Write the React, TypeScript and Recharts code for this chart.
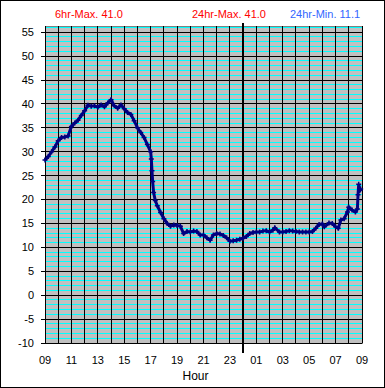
import { LineChart, Line, XAxis, YAxis, ReferenceLine, ReferenceArea, Label } from "recharts"

// hours since 09:00
const hours = [
  0, 0.25, 0.5, 0.75, 1, 1.25, 1.5, 1.75, 2, 2.25, 2.5, 2.75, 3, 3.25, 3.5, 3.75,
  4, 4.25, 4.5, 4.75, 5, 5.25, 5.5, 5.75, 6, 6.25, 6.5, 6.75, 7, 7.25, 7.5, 7.75,
  8, 8.05, 8.1, 8.15, 8.22, 8.35, 8.5, 8.75, 9, 9.25, 9.5, 9.75, 10, 10.25, 10.5, 10.75,
  11, 11.25, 11.5, 11.75, 12, 12.25, 12.5, 12.75, 13, 13.25, 13.5, 13.75, 14, 14.25, 14.5, 14.75,
  15, 15.25, 15.5, 15.75, 16, 16.25, 16.5, 16.75, 17, 17.25, 17.4, 17.75, 18, 18.25, 18.5, 18.75,
  19, 19.25, 19.5, 19.75, 20, 20.25, 20.5, 20.75, 21, 21.15, 21.5, 21.75, 22, 22.2, 22.4, 22.65,
  22.9, 23, 23.25, 23.5, 23.65, 23.7, 23.75, 23.85, 23.9,
]
const temps = [
  28.3, 29.0, 30.0, 31.0, 32.3, 33.0, 33.1, 33.3, 35.3, 36.0, 36.6, 37.6, 38.6, 39.7, 39.5, 39.6,
  39.3, 39.8, 39.4, 40.2, 40.9, 39.6, 39.1, 39.8, 39.0, 38.2, 37.8, 36.5, 35.0, 34.0, 33.0, 31.5,
  30.0, 28.5, 26.0, 23.8, 21.5, 19.8, 18.7, 17.3, 16.0, 15.0, 14.4, 14.7, 14.6, 14.4, 12.9, 13.3,
  13.2, 13.4, 13.3, 12.6, 12.6, 12.0, 11.5, 12.6, 12.9, 12.8, 12.5, 12.0, 11.3, 11.4, 11.5, 11.7,
  11.9, 12.3, 12.9, 13.1, 13.2, 13.2, 13.4, 13.5, 13.2, 13.6, 14.1, 13.2, 13.2, 13.3, 13.5, 13.4,
  13.3, 13.2, 13.2, 13.2, 13.2, 13.3, 14.0, 14.8, 14.9, 14.3, 15.1, 15.0, 14.3, 14.0, 15.7, 16.0,
  17.4, 18.4, 17.8, 17.4, 18.0, 21.0, 23.2, 22.0, 22.2,
]

const yTicks = [-10, -5, 0, 5, 10, 15, 20, 25, 30, 35, 40, 45, 50, 55]
const xTicks = [0, 2, 4, 6, 8, 10, 12, 14, 16, 18, 20, 22, 24]
const hourLines = Array.from({ length: 25 }, (_, i) => i)
const minorLines = Array.from({ length: 67 }, (_, i) => i - 10).filter((v) => v % 5 !== 0)

const data = hours.map((h, i) => ({ h, t: temps[i] }))

const fmtHour = (h: number) => String((9 + h) % 24).padStart(2, "0")

const PlusDot = (p: any) => {
  const { cx, cy } = p
  if (cx == null || cy == null) return null
  return <path key={p.index} d={`M${cx - 2.5},${cy}h5M${cx},${cy - 2.5}v5`} stroke="#000080" strokeWidth={1.5} />
}

const MidnightLine = (p: any) => {
  const top = Math.min(p.y1, p.y2)
  const bottom = Math.max(p.y1, p.y2)
  return <line x1={p.x1} x2={p.x2} y1={top - 3} y2={bottom + 10} stroke="#000" strokeWidth={2} shapeRendering="crispEdges" />
}

const FONT = "Arial, 'Liberation Sans', sans-serif"

export default function App() {
  return (
    <div style={{ position: "relative", width: 385, height: 388, background: "#fff", fontFamily: FONT }}>
      <style>{`body{margin:0}`}</style>
      <LineChart width={385} height={388} data={data} margin={{ top: 26, right: 23, left: 0, bottom: 0 }}>
        <ReferenceArea x1={0} x2={24} y1={-10} y2={56.3} fill="#c0c0c0" fillOpacity={1} stroke="#808080" shapeRendering="crispEdges" />
        {minorLines.map((v) => (
          <ReferenceLine key={"m" + v} y={v} stroke="#00ffff" shapeRendering="crispEdges" />
        ))}
        {yTicks.map((v) => (
          <ReferenceLine key={"y" + v} y={v} stroke="#000" shapeRendering="crispEdges" />
        ))}
        {hourLines.map((v) => (
          <ReferenceLine key={"x" + v} x={v} stroke="#000" shapeRendering="crispEdges" />
        ))}
        <XAxis
          type="number"
          dataKey="h"
          domain={[0, 24]}
          ticks={xTicks}
          tickFormatter={fmtHour}
          tick={{ fontSize: 11, fill: "#000", fontFamily: FONT }}
          tickLine={false}
          tickSize={5}
          tickMargin={8}
          axisLine={{ stroke: "#000", shapeRendering: "crispEdges" }}
          height={45}
        >
          <Label value="Hour" position="insideBottom" offset={8} dx={-8} style={{ fontSize: 12, fill: "#000", fontFamily: FONT }} />
        </XAxis>
        <YAxis
          type="number"
          domain={[-10, 56.3]}
          ticks={yTicks}
          tick={{ fontSize: 11, fill: "#000", fontFamily: FONT }}
          tickSize={4}
          tickMargin={7}
          tickLine={{ stroke: "#000", shapeRendering: "crispEdges" }}
          axisLine={{ stroke: "#000", shapeRendering: "crispEdges" }}
          width={45}
          allowDataOverflow
        />
        <ReferenceLine x={15} shape={MidnightLine} />
        <Line
          type="linear"
          dataKey="t"
          stroke="#000080"
          strokeWidth={3}
          dot={PlusDot}
          isAnimationActive={false}
        />
      </LineChart>
      <div style={{ position: "absolute", left: 55, top: 8, fontSize: 11, color: "#ff0000" }}>6hr-Max. 41.0</div>
      <div style={{ position: "absolute", left: 192, top: 8, fontSize: 11, color: "#ff0000" }}>24hr-Max. 41.0</div>
      <div style={{ position: "absolute", left: 290, top: 8, fontSize: 11, color: "#3366ff" }}>24hr-Min. 11.1</div>
      <div
        style={{
          position: "absolute",
          left: 0,
          top: 0,
          width: 385,
          height: 388,
          boxSizing: "border-box",
          border: "1px solid #000",
          pointerEvents: "none",
        }}
      />
    </div>
  )
}
